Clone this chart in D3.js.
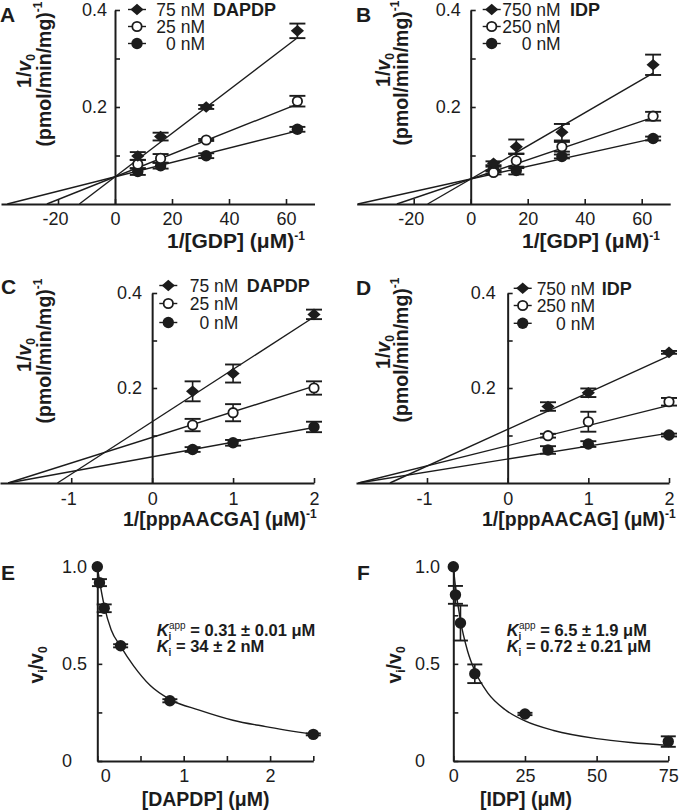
<!DOCTYPE html>
<html><head><meta charset="utf-8">
<script src="https://cdn.jsdelivr.net/npm/d3@7"></script>
<style>
body{margin:0;background:#fff}
svg{display:block}
text{font-family:"Liberation Sans",Arial,Helvetica,sans-serif}
</style>
</head><body>
<svg id="c" width="680" height="812"></svg>
<script>
// ---------------- data ----------------
const gdpInv = [8, 16, 32, 64];
const oligoInv = [0.5, 1, 2];
const dapdpLabels = ["75 nM", "25 nM", "0 nM"];
const idpLabels = ["750 nM", "250 nM", "0 nM"];
const shapes = ["diamond", "open", "filled"];

// Panel A (DAPDP vs GDP)
const aVals = [[0.099, 0.139, 0.200, 0.357], [0.082, 0.094, 0.132, 0.212], [0.067, 0.079, 0.0996, 0.154]];
const aErrs = [[0.008, 0.008, 0.004, 0.015], [0.009, 0.009, 0.002, 0.011], [0.007, 0.006, 0.005, 0.005]];
const aYint = [0.056, 0.056, 0.056];
const aXint = [-12.5, -23.9, -37.8];

// Panel B (IDP vs GDP)
const bVals = [[0.084, 0.118, 0.148, 0.287], [0.065, 0.089, 0.118, 0.181], [0.072, 0.069, 0.098, 0.135]];
const bErrs = [[0.004, 0.015, 0.017, 0.021], [0.004, 0.015, 0.010, 0.009], [0.005, 0.008, 0.004, 0.004]];
const bYint = [0.0515, 0.0515, 0.0515];
const bXint = [-15.1, -25.9, -39.6];

// Panel C (DAPDP vs pppAACGA)
const cVals = [[0.193, 0.2305, 0.355], [0.122, 0.148, 0.200], [0.0705, 0.0846, 0.118]];
const cErrs = [[0.021, 0.019, 0.010], [0.013, 0.018, 0.014], [0.005, 0.006, 0.011]];
const cYint = [0.129, 0.096, 0.055];
const cXint = [-1.17, -1.78, -1.78];

// Panel D (IDP vs pppAACAG)
const dVals = [[0.161, 0.190, 0.275], [0.0996, 0.129, 0.171], [0.0695, 0.082, 0.101]];
const dErrs = [[0.009, 0.009, 0.003], [0.004, 0.021, 0.008], [0.008, 0.006, 0.003]];
const dYint = [0.113, 0.0785, 0.0505];
const dXint = [-1.46, -1.85, -1.85];

// Panel E (DAPDP dose response)
const dapdpConc = [0, 0.025, 0.08, 0.27, 0.84, 2.5];
const dapdpRatio = [1.0, 0.918, 0.786, 0.593, 0.31, 0.137];
const dapdpErr = [0, 0.018, 0.02, 0.008, 0.008, 0.005];
const dapdpFitX = [0, 0.025, 0.08, 0.16, 0.27, 0.42, 0.61, 0.85, 1.18, 1.57, 1.95, 2.5];
const dapdpFitY = [1.0, 0.93, 0.80, 0.675, 0.59, 0.49, 0.39, 0.315, 0.262, 0.21, 0.177, 0.137];

// Panel F (IDP dose response)
const idpConc = [0, 0.75, 2.5, 7.5, 25, 75];
const idpRatio = [1.0, 0.855, 0.71, 0.449, 0.242, 0.10];
const idpErr = [0, 0.046, 0.09, 0.048, 0.006, 0.027];
const idpFitX = [0, 0.75, 2.5, 5, 7.5, 12, 18, 25, 35, 50, 62, 75];
const idpFitY = [1.0, 0.897, 0.722, 0.565, 0.464, 0.351, 0.265, 0.206, 0.157, 0.115, 0.095, 0.08];

// ---------------- drawing ----------------
const ink = "#1c1c1c";
const svg = d3.select("#c");

function styleAxis(g, size) {
  g.attr("font-size", size).attr("font-family", '"Liberation Sans",Arial,sans-serif').attr("color", ink);
  g.select(".domain").attr("stroke-width", 2);
  g.selectAll(".tick line").attr("stroke-width", 1.6);
}

function marker(g, shape, cx, cy) {
  if (shape === "diamond") {
    g.append("path").attr("d", "M0,-5.8L6.6,0L0,5.8L-6.6,0Z")
      .attr("transform", `translate(${cx},${cy})`).attr("fill", ink);
  } else if (shape === "open") {
    g.append("circle").attr("cx", cx).attr("cy", cy).attr("r", 4.7)
      .attr("fill", "#fff").attr("stroke", ink).attr("stroke-width", 1.8);
  } else {
    g.append("circle").attr("cx", cx).attr("cy", cy).attr("r", 5.7).attr("fill", ink);
  }
}

function errBar(g, cx, yLo, yHi, cw) {
  g.append("line").attr("x1", cx).attr("x2", cx).attr("y1", yLo).attr("y2", yHi)
    .attr("stroke", ink).attr("stroke-width", 1.6);
  [yLo, yHi].forEach(yy => g.append("line").attr("x1", cx - cw / 2).attr("x2", cx + cw / 2)
    .attr("y1", yy).attr("y2", yy).attr("stroke", ink).attr("stroke-width", 1.9));
}

function yTitle(g, tx, ty, parts, size) {
  const t = g.append("text").attr("transform", `translate(${tx},${ty}) rotate(-90)`)
    .attr("text-anchor", "middle").attr("font-weight", "bold").attr("font-size", size).attr("fill", ink);
  parts.forEach(p => {
    const s = t.append("tspan").text(p.t);
    if (p.it) s.attr("font-style", "italic");
    if (p.fs) s.attr("font-size", p.fs);
    if (p.dy) s.attr("dy", p.dy);
  });
}

function xTitle(g, tx, ty, main, size) {
  const t = g.append("text").attr("x", tx).attr("y", ty).attr("font-weight", "bold")
    .attr("font-size", size).attr("fill", ink);
  t.append("tspan").text(main);
  t.append("tspan").text("-1").attr("font-size", 12).attr("dy", -8);
}

function letter(tx, ty, L) {
  svg.append("text").attr("x", tx).attr("y", ty).attr("font-size", 21).attr("font-weight", "bold")
    .attr("fill", ink).text(L);
}

function drawLinePanel(p) {
  const g = svg.append("g");
  const x = d3.scaleLinear().domain(p.xDomain).range(p.xRange);
  const y = d3.scaleLinear().domain([0, 0.4]).range(p.yRange);

  const xAxis = d3.axisBottom(x).tickValues(p.xTicks).tickSizeInner(-5).tickSizeOuter(0)
    .tickPadding(p.xPad).tickFormat(d => d < 0 ? "-" + Math.abs(d) : String(d));
  const gx = g.append("g").attr("transform", `translate(0,${y(0)})`).call(xAxis);
  styleAxis(gx, 18);
  gx.selectAll(".tick text").attr("dx", d => d < 0 ? -3 : 0);

  const yAxis = d3.axisLeft(y).tickValues([0.1, 0.2, 0.3, 0.4]).tickSizeInner(-5).tickSizeOuter(0)
    .tickPadding(p.yPad).tickFormat(d => (Math.round(d * 10) % 2 === 0) ? d.toFixed(1) : "");
  const gy = g.append("g").attr("transform", `translate(${x(0)},0)`).call(yAxis);
  styleAxis(gy, 18);

  // fitted lines
  const line = d3.line().x(d => x(d[0])).y(d => y(d[1]));
  p.yint.forEach((b, i) => {
    const xi = p.xint[i];
    const xEnd = p.xs[p.xs.length - 1];
    const pts = [[xi, 0], [xEnd, b * (1 - xEnd / xi)]];
    g.append("path").attr("d", line(pts)).attr("fill", "none").attr("stroke", ink).attr("stroke-width", 1.4);
  });

  // error bars then markers
  p.vals.forEach((vs, i) => {
    vs.forEach((v, j) => {
      const e = p.errs[i][j];
      if (e > 0) errBar(g, x(p.xs[j]), y(v - e), y(v + e), 16);
    });
  });
  [2, 1, 0].forEach(i => {
    p.vals[i].forEach((v, j) => marker(g, shapes[i], x(p.xs[j]), y(v)));
  });

  // legend
  p.labels.forEach((lab, i) => {
    const ly = p.legY[i];
    g.append("line").attr("x1", p.legX - 9).attr("x2", p.legX + 9).attr("y1", ly).attr("y2", ly)
      .attr("stroke", ink).attr("stroke-width", 1.4);
    marker(g, shapes[i], p.legX, ly);
    g.append("text").attr("x", p.legTextEnd).attr("y", ly).attr("dy", "0.36em")
      .attr("text-anchor", "end").attr("font-size", 17.5).attr("fill", ink).text(lab);
  });
  g.append("text").attr("x", p.legNameX).attr("y", p.legY[0]).attr("dy", "0.36em")
    .attr("font-size", 18).attr("font-weight", "bold").attr("fill", ink).text(p.name);

  // titles
  yTitle(g, p.yt1[0], p.yt1[1], [{t: "1/"}, {t: "v", it: true}, {t: "0", fs: 12, dy: 4}], 19.5);
  yTitle(g, p.yt2[0], p.yt2[1], [{t: "(pmol/min/mg)"}, {t: "-1", fs: 12, dy: -9}], 19.5);
  xTitle(g, p.xt[0], p.xt[1], p.xTitle, p.xtSize);
  letter(p.letter[0], p.letter[1], p.letter[2]);
}

function drawCurvePanel(p) {
  const g = svg.append("g");
  const x = d3.scaleLinear().domain(p.xDomain).range(p.xRange);
  const y = d3.scaleLinear().domain([0, 1]).range([761, 566.7]);

  const xAxis = d3.axisBottom(x).tickValues(p.xTicks).tickSizeInner(-5).tickSizeOuter(0)
    .tickPadding(8).tickFormat(d => p.xLabels.includes(d) ? String(d) : "");
  const gx = g.append("g").attr("transform", `translate(0,${y(0)})`).call(xAxis);
  styleAxis(gx, 18);
  gx.selectAll(".tick text").attr("dx", d => d === 0 ? p.zeroDx : 0);

  const yAxis = d3.axisLeft(y).tickValues([0, 0.25, 0.5, 0.75, 1]).tickSizeInner(-5).tickSizeOuter(0)
    .tickPadding(8).tickFormat(d => d === 0 ? "0" : (d === 0.5 || d === 1) ? d.toFixed(1) : "");
  const gy = g.append("g").attr("transform", `translate(${x(0)},0)`).call(yAxis);
  styleAxis(gy, 18);
  gy.selectAll(".tick text").attr("text-anchor", "start").attr("x", p.yLabelX - x(0));

  // fitted curve
  const curve = d3.line().x((d, i) => x(p.fitX[i])).y(d => y(d)).curve(d3.curveMonotoneX);
  g.append("path").attr("d", curve(p.fitY)).attr("fill", "none").attr("stroke", ink).attr("stroke-width", 1.4);

  p.conc.forEach((c, i) => {
    const v = p.ratio[i], e = p.err[i];
    if (e > 0) errBar(g, x(c), y(v - e), y(v + e), 15);
  });
  p.conc.forEach((c, i) => marker(g, "filled", x(c), y(p.ratio[i])));

  // annotation
  const a1 = g.append("text").attr("x", p.annX).attr("y", p.annY[0]).attr("font-size", 16.5)
    .attr("font-weight", "bold").attr("fill", ink);
  a1.append("tspan").text("K").attr("font-style", "italic");
  a1.append("tspan").text("i").attr("font-size", 10).attr("dy", 4);
  a1.append("tspan").text("app").attr("font-size", 10).attr("font-weight", "normal").attr("dx", -2.5).attr("dy", -11);
  a1.append("tspan").text(" = " + p.ann1).attr("dy", 7);
  const a2 = g.append("text").attr("x", p.annX).attr("y", p.annY[1]).attr("font-size", 16.5)
    .attr("font-weight", "bold").attr("fill", ink);
  a2.append("tspan").text("K").attr("font-style", "italic");
  a2.append("tspan").text("i").attr("font-size", 10).attr("dy", 4);
  a2.append("tspan").text(" = " + p.ann2).attr("dy", -4);

  yTitle(g, p.yt[0], p.yt[1], [{t: "v"}, {t: "i", fs: 12, dy: 4}, {t: "/v", dy: -4}, {t: "0", fs: 12, dy: 4}], 19.5);
  g.append("text").attr("x", p.xt[0]).attr("y", p.xt[1]).attr("font-size", 19.5).attr("font-weight", "bold")
    .attr("fill", ink).text(p.xTitle);
  letter(p.letter[0], p.letter[1], p.letter[2]);
}

drawLinePanel({
  vals: aVals, errs: aErrs, yint: aYint, xint: aXint, xs: gdpInv, labels: dapdpLabels, name: "DAPDP",
  xDomain: [-40, 70], xRange: [1, 314.5], yRange: [204, 10], xTicks: [-20, 0, 20, 40, 60], xPad: 8, yPad: 8,
  legX: 137, legTextEnd: 205, legNameX: 213, legY: [9.5, 26.5, 43.5],
  yt1: [31, 71], yt2: [51, 74], xt: [167, 248], xTitle: "1/[GDP] (\u03bcM)", xtSize: 21, letter: [0, 22, "A"]
});
drawLinePanel({
  vals: bVals, errs: bErrs, yint: bYint, xint: bXint, xs: gdpInv, labels: idpLabels, name: "IDP",
  xDomain: [-40, 70], xRange: [356.7, 670.2], yRange: [204, 10], xTicks: [-20, 0, 20, 40, 60], xPad: 8, yPad: 10,
  legX: 491.7, legTextEnd: 560.7, legNameX: 570, legY: [9.5, 26.5, 43.5],
  yt1: [390, 70], yt2: [408, 73], xt: [522, 248], xTitle: "1/[GDP] (\u03bcM)", xtSize: 21, letter: [356, 22, "B"]
});
drawLinePanel({
  vals: cVals, errs: cErrs, yint: cYint, xint: cXint, xs: oligoInv, labels: dapdpLabels, name: "DAPDP",
  xDomain: [-1.88, 2], xRange: [0, 314], yRange: [483, 293], xTicks: [-1, 0, 1, 2], xPad: 9, yPad: 10,
  legX: 168.3, legTextEnd: 238.3, legNameX: 246.7, legY: [285.5, 303.5, 322.5],
  yt1: [31, 355], yt2: [51, 351], xt: [123, 526], xTitle: "1/[pppAACGA] (\u03bcM)", xtSize: 19.5, letter: [1, 294, "C"]
});
drawLinePanel({
  vals: dVals, errs: dErrs, yint: dYint, xint: dXint, xs: oligoInv, labels: idpLabels, name: "IDP",
  xDomain: [-1.88, 2], xRange: [356, 669], yRange: [483, 293], xTicks: [-1, 0, 1, 2], xPad: 9, yPad: 12,
  legX: 522.7, legTextEnd: 595, legNameX: 601.7, legY: [288.3, 305.5, 323.3],
  yt1: [390, 352], yt2: [408, 350], xt: [482, 526], xTitle: "1/[pppAACAG] (\u03bcM)", xtSize: 19.5, letter: [356, 295, "D"]
});
drawCurvePanel({
  conc: dapdpConc, ratio: dapdpRatio, err: dapdpErr, fitX: dapdpFitX, fitY: dapdpFitY,
  xDomain: [0, 2.5], xRange: [97.3, 313.3], xTicks: [0, 0.5, 1, 1.5, 2, 2.5], xLabels: [0, 1, 2], zeroDx: 8,
  yLabelX: 62, annX: 156.7, annY: [636, 652], ann1: "0.31 \u00b1 0.01 \u03bcM", ann2: "34 \u00b1 2 nM",
  yt: [43, 665], xt: [141.7, 806], xTitle: "[DAPDP] (\u03bcM)", letter: [1, 580, "E"]
});
drawCurvePanel({
  conc: idpConc, ratio: idpRatio, err: idpErr, fitX: idpFitX, fitY: idpFitY,
  xDomain: [0, 75], xRange: [453.3, 668.3], xTicks: [0, 25, 50, 75], xLabels: [0, 25, 50, 75], zeroDx: 0,
  yLabelX: 415, annX: 506.7, annY: [636, 652], ann1: "6.5 \u00b1 1.9 \u03bcM", ann2: "0.72 \u00b1 0.21 \u03bcM",
  yt: [401, 665], xt: [480, 806], xTitle: "[IDP] (\u03bcM)", letter: [357, 580, "F"]
});
</script>
</body></html>
